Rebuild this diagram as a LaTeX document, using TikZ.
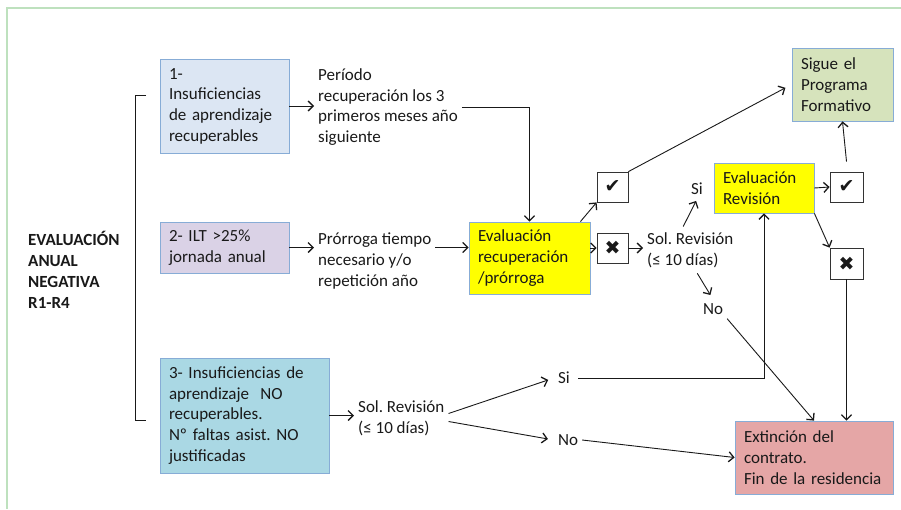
\documentclass[tikz,border=0pt]{standalone}
\usepackage{fontspec}
\setmainfont{Carlito}
\newfontfamily\symfont{DejaVu Sans}
\usetikzlibrary{arrows.meta}

\definecolor{frameg}{RGB}{190,225,190}
\definecolor{boxedge}{RGB}{135,172,214}
\definecolor{fillone}{RGB}{220,230,243}
\definecolor{filltwo}{RGB}{218,210,230}
\definecolor{fillthree}{RGB}{170,216,228}
\definecolor{fillgreen}{RGB}{214,227,188}
\definecolor{fillred}{RGB}{229,166,166}
\definecolor{evalyellow}{RGB}{255,255,0}
\definecolor{ink}{RGB}{25,25,25}

\begin{document}
\frenchspacing
\begin{tikzpicture}[x=1pt,y=-1pt,
  every node/.style={font=\fontsize{17}{20.7}\selectfont, text=ink},
  box/.style={draw=boxedge, line width=0.8pt, align=left, inner sep=0pt},
  markbox/.style={draw=black!80, fill=white, line width=0.8pt, minimum width=31pt,
    minimum height=30pt, inner sep=0pt, font=\symfont\fontsize{19}{19}\selectfont},
  plain/.style={align=left, inner sep=4pt},
  link/.style={draw=ink, line width=0.9pt},
  arr/.style={link, -{Straight Barb[length=5pt,width=10pt,line width=1.3pt]}},
]
\useasboundingbox (0,0) rectangle (901,509);

% outer frame
\draw[frameg, line width=2.5pt] (901,8) -- (7,8) -- (7,509);

% heading and bracket
\node[plain, anchor=west, font=\bfseries\fontsize{17}{20.9}\selectfont] (lab) at (24,270)
  {EVALUACIÓN\\ANUAL\\NEGATIVA\\R1-R4};
\coordinate (brtop) at (146,95);
\coordinate (brbot) at (146,420);
\draw[link] (brtop) -- (135,95) -- (135,420) -- (brbot);

% starting situations
\node[box, fill=fillone, minimum width=129pt, minimum height=94pt, text width=111pt] (b1) at (224.5,106)
  {1-\\Insuficiencias\\de aprendizaje\\recuperables};
\node[box, fill=filltwo, minimum width=129pt, minimum height=51pt, text width=111pt] (b2) at (224.5,247.5)
  {2- ILT >25\%\\jornada anual};
\node[box, fill=fillthree, minimum width=169pt, minimum height=115pt, text width=151pt] (b3) at (244.5,415.5)
  {3- Insuficiencias de\\aprendizaje\ \ NO\\recuperables.\\Nº faltas asist. NO\\justificadas};

% intermediate texts
\node[plain, anchor=west] (t1) at (314,107) {Período\\recuperación los 3\\primeros meses año\\siguiente};
\node[plain, anchor=west] (t2) at (314,261) {Prórroga tiempo\\necesario y/o\\repetición año};

% evaluations
\node[box, fill=evalyellow, minimum width=121pt, minimum height=72pt, text width=103pt] (ey) at (529.5,258)
  {Evaluación\\recuperación\\/prórroga};
\node[box, fill=evalyellow, minimum width=100pt, minimum height=50pt, text width=82pt] (er) at (764,188)
  {Evaluación\\Revisión};

% outcome marks
\node[markbox] (ck1) at (612.5,187) {✔};
\node[markbox] (xk1) at (612.5,248) {✖};
\node[markbox, minimum width=33pt] (ck2) at (846.5,187) {✔};
\node[markbox, minimum width=33pt, minimum height=31pt] (xk2) at (846.5,263.5) {✖};

% review requests
\node[plain, anchor=west] (sr1) at (643,250) {Sol. Revisión\\(≤ 10 días)};
\node[plain, anchor=west] (sr2) at (354,418.5) {Sol. Revisión\\(≤ 10 días)};
\node[plain] (si1) at (697,189) {Si};
\node[plain] (no1) at (713,309) {No};
\node[plain] (si2) at (564,378) {Si};
\node[plain] (no2) at (568,440) {No};

% final states
\node[box, fill=fillgreen, minimum width=101pt, minimum height=73pt, text width=83pt] (sg) at (842.5,84.5)
  {Sigue el\\Programa\\Formativo};
\node[box, fill=fillred, minimum width=158pt, minimum height=73pt, text width=140pt] (ex) at (814,457.5)
  {Extinción del\\contrato.\\Fin de la residencia};

% connectors
\draw[arr] (b1.east) -- (b1.east -| t1.west);
\draw[arr] (t1.east) -| (ey.north);
\draw[arr] (b2.east) -- (b2.east -| t2.west);
\draw[arr] (b2.east -| t2.east) -- (b2.east -| ey.west);
\draw[arr] (xk1.west -| ey.east) -- (xk1.west);
\draw[arr] (xk1.east) -- (xk1.east -| sr1.west);
\draw[arr] ([xshift=-10pt]ey.north east) -- (ck1.south west);
\draw[arr, shorten >=7pt] (ck1.north east) -- (sg.west);
\draw[arr, shorten <=2pt, shorten >=2pt] ([xshift=-8pt]sr1.north) -- (si1.south);
\draw[arr, shorten <=2pt, shorten >=5pt] ([xshift=6pt]sr1.south) -- (no1.north);
\draw[arr] (no1.south east) -- (ex.north);
\draw[arr] (er.east) -- (ck2.west);
\draw[arr] ([yshift=10pt]ck2.north) -- (sg.south);
\draw[arr] (er.south east) -- (xk2.north west);
\draw[arr] (xk2.south) -- (xk2.south |- ex.north);
\draw[arr] (b3.east) -- (b3.east -| sr2.west);
\draw[arr, shorten >=6pt] ([yshift=5pt]sr2.east) -- (si2.west);
\draw[arr, shorten >=6pt] ([yshift=-3pt]sr2.east) -- (no2.west);
\draw[arr, shorten <=4pt] (si2.east) -| (er.south);
\draw[arr] (no2.east) -- (ex.west);
\end{tikzpicture}
\end{document}
